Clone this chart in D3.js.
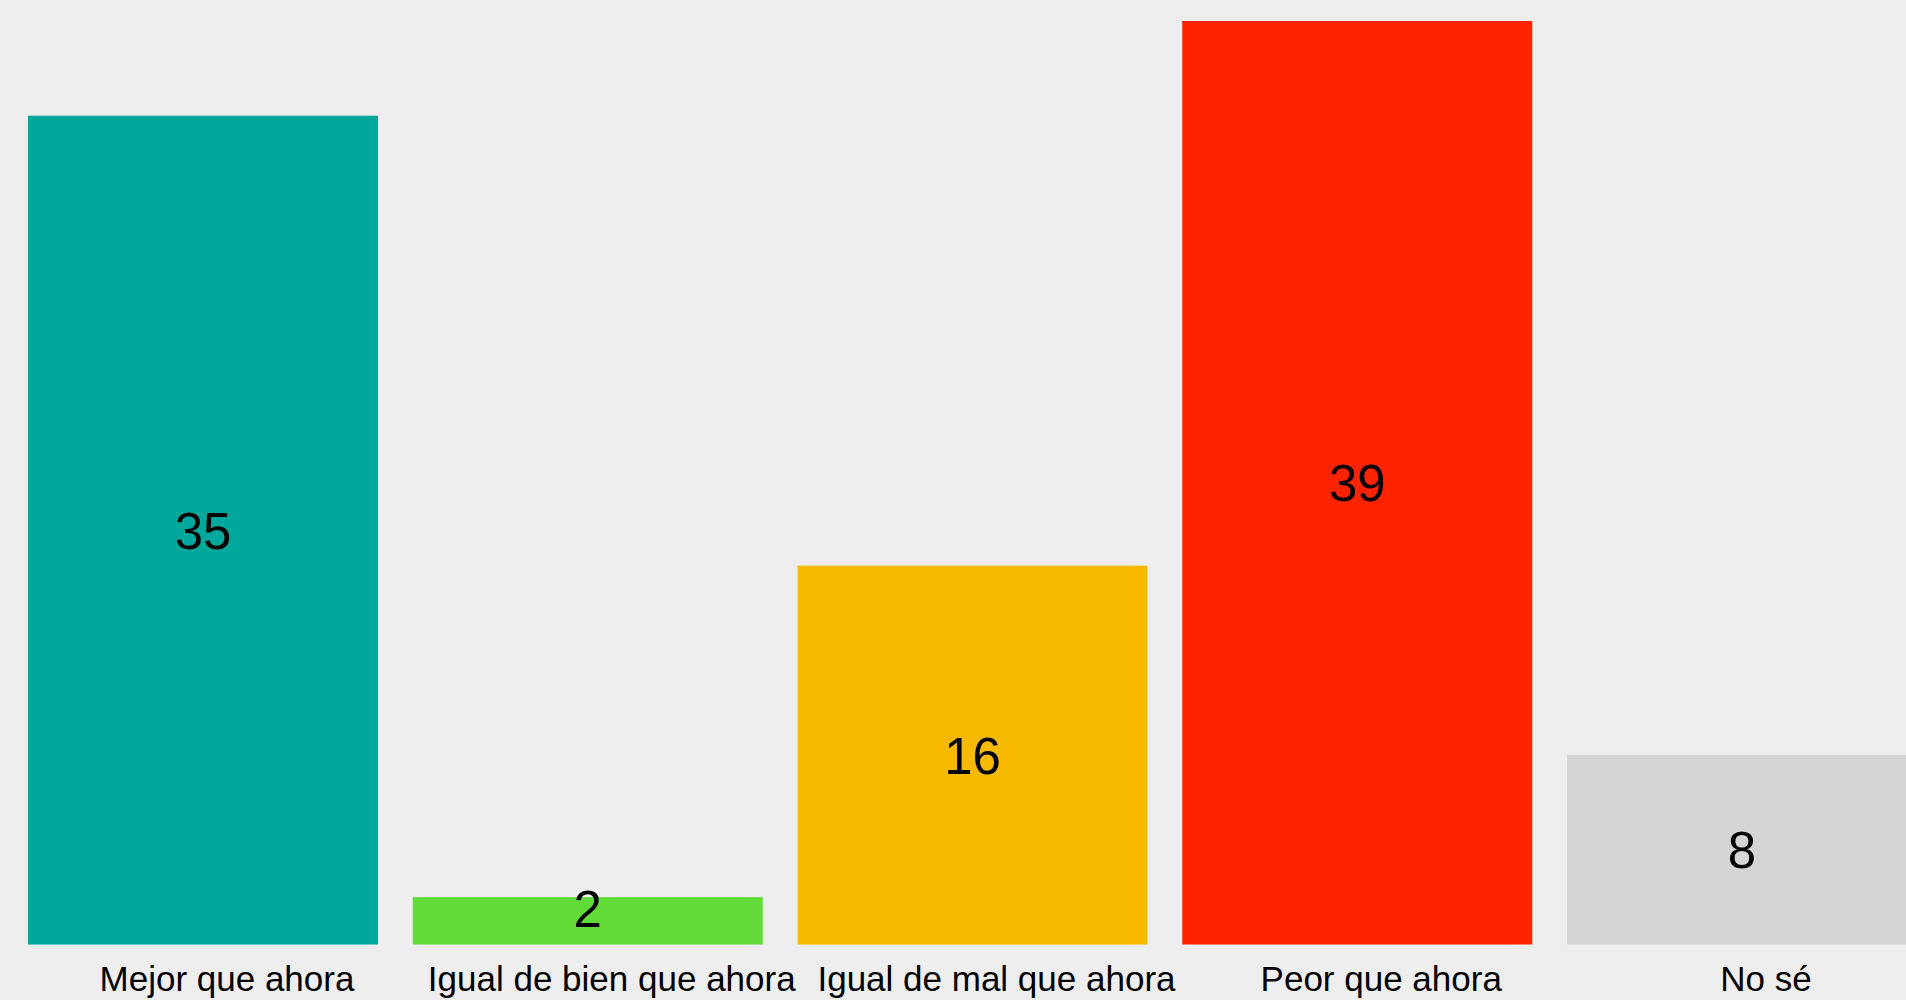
<!DOCTYPE html>
<html>
<head>
<meta charset="utf-8">
<script src="https://cdn.jsdelivr.net/npm/d3@7"></script>
<style>
  html, body { margin: 0; padding: 0; background: #eeeeee; overflow: hidden; }
  svg { display: block; }
</style>
</head>
<body>
<svg id="chart"></svg>
<script>
// data
const categories = ["Mejor que ahora", "Igual de bien que ahora", "Igual de mal que ahora", "Peor que ahora", "No sé"];
const values = [35, 2, 16, 39, 8];
const colors = ["#00a89c", "#62da38", "#f7ba00", "#ff2300", "#d5d5d5"];

let width = 1906;
let height = 1000;

let svg = d3.select("#chart")
  .attr("width", width)
  .attr("height", height);

svg.append("rect")
  .attr("width", width)
  .attr("height", height)
  .attr("fill", "#eeeeee");

let x_scale = d3.scaleBand()
  .domain(categories)
  .range([28, 1917])
  .paddingInner(0.0903)
  .paddingOuter(0);

let y_scale = d3.scaleLinear()
  .domain([0, 39])
  .range([944.5, 21]);

// bars
svg.selectAll(".bar")
  .data(values)
  .enter()
  .append("rect")
  .attr("class", "bar")
  .attr("x", (d, i) => x_scale(categories[i]))
  .attr("y", d => y_scale(d))
  .attr("width", x_scale.bandwidth())
  .attr("height", d => y_scale(0) - y_scale(d))
  .attr("fill", (d, i) => colors[i]);

// value labels, kept clear of the baseline for short bars
svg.selectAll(".val")
  .data(values)
  .enter()
  .append("text")
  .attr("class", "val")
  .attr("x", (d, i) => x_scale(categories[i]) + x_scale.bandwidth() / 2)
  .attr("y", d => {
    let mid = (y_scale(d) + y_scale(0)) / 2;
    return Math.min(mid, y_scale(0) - 36) + 18.5;
  })
  .attr("text-anchor", "middle")
  .attr("font-family", "Liberation Sans, Arial, sans-serif")
  .attr("font-size", 51)
  .attr("fill", "#000")
  .text(d => d);

// category labels
svg.selectAll(".cat")
  .data(categories)
  .enter()
  .append("text")
  .attr("class", "cat")
  .attr("x", d => x_scale(d) + x_scale.bandwidth() / 2 + 24)
  .attr("y", 991)
  .attr("text-anchor", "middle")
  .attr("font-family", "Liberation Sans, Arial, sans-serif")
  .attr("font-size", 35)
  .attr("fill", "#000")
  .text(d => d);
</script>
</body>
</html>
